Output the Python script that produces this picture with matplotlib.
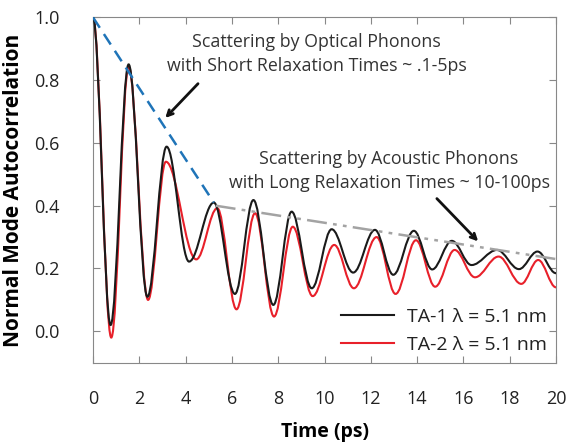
import matplotlib.pyplot as plt
from matplotlib.path import Path
from matplotlib.patches import PathPatch
from matplotlib.lines import Line2D

plt.rcParams['font.family'] = ['Open Sans', 'DejaVu Sans']

# extrema (peaks / troughs), time in ps
ta1_t = [0, 0.76, 1.54, 2.35, 3.18, 4.15, 5.22, 6.13, 6.93, 7.79, 8.58, 9.45,
         10.31, 11.24, 12.18, 12.97, 13.86, 14.65, 15.5, 16.35, 17.45, 18.4, 19.2, 20.0]
ta1_v = [1.0, 0.02, 0.85, 0.11, 0.588, 0.222, 0.41, 0.119, 0.418, 0.084, 0.381, 0.137,
         0.325, 0.187, 0.323, 0.18, 0.32, 0.197, 0.288, 0.211, 0.259, 0.198, 0.254, 0.185]

ta2_t = [0, 0.79, 1.54, 2.38, 3.15, 4.46, 5.37, 6.2, 7.0, 7.82, 8.63, 9.49,
         10.42, 11.27, 12.25, 13.07, 13.95, 14.78, 15.62, 16.5, 17.52, 18.5, 19.23, 20.0]
ta2_v = [1.0, -0.02, 0.843, 0.10, 0.54, 0.229, 0.392, 0.07, 0.376, 0.047, 0.333, 0.112,
         0.275, 0.137, 0.30, 0.119, 0.29, 0.142, 0.259, 0.172, 0.238, 0.151, 0.227, 0.14]

# envelope guide lines
optical_t = [0, 5.22]
optical_v = [1.0, 0.41]
acoustic_t = [5.3, 20]
acoustic_v = [0.40, 0.23]

xticks = [0, 2, 4, 6, 8, 10, 12, 14, 16, 18, 20]
yticks = [0.0, 0.2, 0.4, 0.6, 0.8, 1.0]


def smooth_path(ts, vs, k=0.364):
    # cubic segments with flat tangents at each extremum
    verts = [(ts[0], vs[0])]
    codes = [Path.MOVETO]
    for i in range(len(ts) - 1):
        dx = ts[i + 1] - ts[i]
        verts += [(ts[i] + k * dx, vs[i]), (ts[i + 1] - k * dx, vs[i + 1]), (ts[i + 1], vs[i + 1])]
        codes += [Path.CURVE4] * 3
    return Path(verts, codes)


fig = plt.figure(figsize=(5.69, 4.46), dpi=100)
ax = fig.add_axes([0.1634, 0.1868, 0.8138, 0.7744])

black = '#1a1a1a'
red = '#e8202a'
ax.add_patch(PathPatch(smooth_path(ta1_t, ta1_v), fill=False, edgecolor=black, lw=1.5, zorder=3))
ax.add_patch(PathPatch(smooth_path(ta2_t, ta2_v), fill=False, edgecolor=red, lw=1.5, zorder=2))

ax.plot(optical_t, optical_v, color='#1f74b8', lw=1.8, dashes=(5, 3), zorder=4)
ax.plot(acoustic_t, acoustic_v, color='#a3a3a3', lw=1.8, dashes=(8, 2.5, 1.5, 2.5, 1.5, 2.5), zorder=4)

ax.text(9.66, 0.883, 'Scattering by Optical Phonons\nwith Short Relaxation Times ~ .1-5ps',
        ha='center', va='center', fontsize=12.8, color='#333333', linespacing=1.4)
ax.annotate('', xy=(3.04, 0.673), xytext=(4.62, 0.795),
            arrowprops=dict(arrowstyle='->', color='#111111', lw=2))
ax.text(12.79, 0.511, 'Scattering by Acoustic Phonons\nwith Long Relaxation Times ~ 10-100ps',
        ha='center', va='center', fontsize=12.8, color='#333333', linespacing=1.4)
ax.annotate('', xy=(16.72, 0.28), xytext=(14.77, 0.429),
            arrowprops=dict(arrowstyle='->', color='#111111', lw=2))

handles = [Line2D([], [], color=black, lw=1.5), Line2D([], [], color=red, lw=1.5)]
ax.legend(handles, ['TA-1 λ = 5.1 nm', 'TA-2 λ = 5.1 nm'], loc='lower right',
          frameon=False, fontsize=14, handlelength=2.7, handletextpad=0.7,
          labelspacing=0.5, borderaxespad=0.05, labelcolor='#222222')

ax.set_xlim(0, 20)
ax.set_ylim(-0.1, 1.0)
ax.set_xticks(xticks)
ax.set_yticks(yticks)
ax.set_yticklabels([f'{v:.1f}' for v in yticks])
ax.tick_params(direction='in', top=True, right=True, length=5, color='#888888',
               labelsize=13, labelcolor='#222222')
ax.tick_params(axis='x', pad=20)
ax.tick_params(axis='y', pad=24)
for s in ax.spines.values():
    s.set_color('#888888')

ax.set_xlabel('Time (ps)', fontsize=14, fontweight='bold', labelpad=10)
ax.set_ylabel('Normal Mode Autocorrelation', fontsize=15, fontweight='bold', labelpad=7)

fig.savefig('out.png', dpi=100)
